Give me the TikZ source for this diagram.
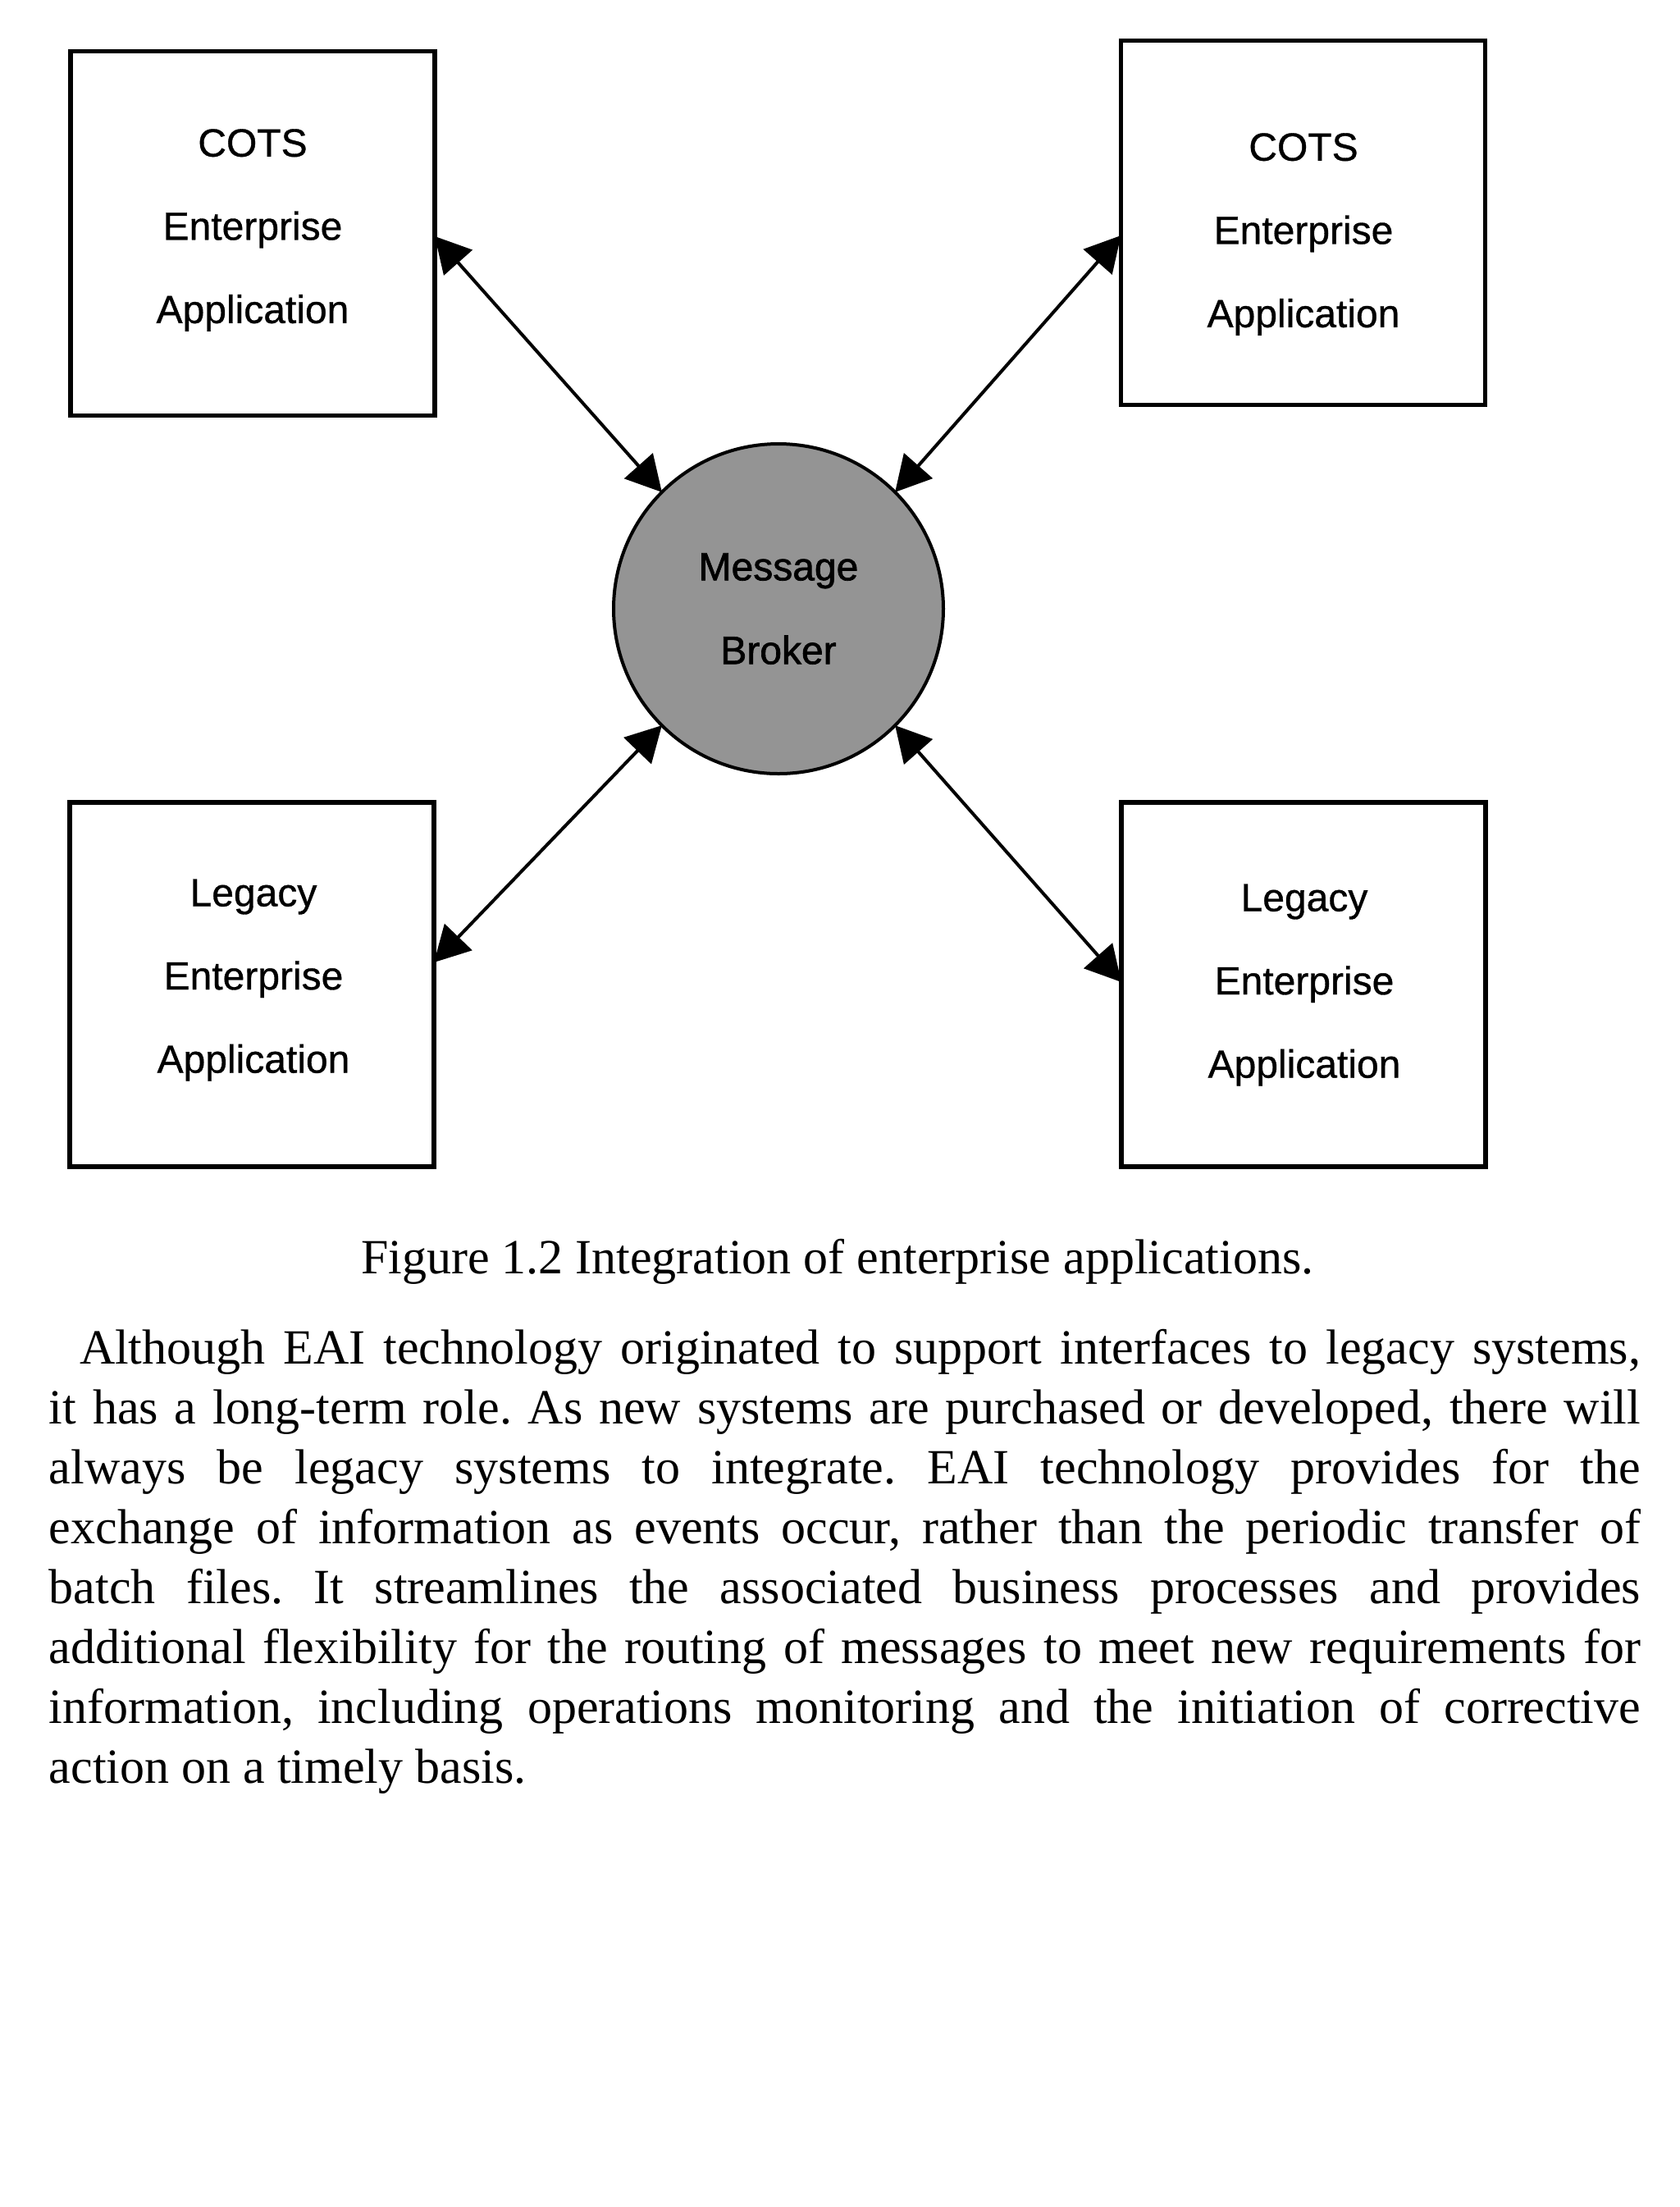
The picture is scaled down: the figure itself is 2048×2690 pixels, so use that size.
\documentclass[tikz,border=0pt]{standalone}
\usepackage{fontspec}
\setmainfont{Liberation Serif}
\newfontfamily\arialfont[FakeBold=0.7]{Liberation Sans}
\newfontfamily\arialbold[FakeBold=1.4]{Liberation Sans}
\usetikzlibrary{arrows.meta}
\definecolor{brokergray}{RGB}{148,148,148}
\frenchspacing
\begin{document}
\begin{tikzpicture}[x=0.5pt,y=-0.5pt,
  appbox/.style={draw=black, line width=2.8pt, minimum width=222pt, minimum height=222pt, inner sep=0pt, outer sep=0pt},
  applabel/.style={font=\arialfont\fontsize{24}{50.75}\selectfont, align=center, inner sep=0pt, outer sep=0pt},
  broker/.style={circle, draw=black, line width=2pt, fill=brokergray, minimum size=201pt, inner sep=0pt, outer sep=0pt, align=center, font=\arialbold\fontsize{24}{51}\selectfont},
  link/.style={line width=2pt, {Triangle[length=21.5pt,width=23pt]}-{Triangle[length=21.5pt,width=23pt]}},
  capt/.style={font=\fontsize{30}{36}\selectfont, anchor=base west, inner sep=0pt, outer sep=0pt},
  para/.style={font=\fontsize{30}{36}\selectfont, anchor=base west, inner sep=0pt, outer sep=0pt}]
\useasboundingbox[fill=white] (0,0) rectangle (2048,2690);

% boxes
\node[appbox] (tl) at (308,284.5) {};
\node[appbox] (tr) at (1588.5,271.5) {};
\node[appbox] (bl) at (307,1200) {};
\node[appbox] (br) at (1589,1200) {};

\node[applabel] (tlt) at (308,280.5) {COTS\\Enterprise\\Application};
\node[applabel] (trt) at (1589,285.5) {COTS\\Enterprise\\Application};
\node[applabel] (blt) at (309,1194.5) {Legacy\\Enterprise\\Application};
\node[applabel] (brt) at (1590,1200.5) {Legacy\\Enterprise\\Application};

% broker
\node[broker] (mb) at (949,742) {Message\\Broker};

% connectors
\draw[link] ([yshift=-1.75pt]tl.east) -- (mb.135);
\draw[link] ([yshift=-7.75pt]tr.west) -- (mb.45);
\draw[link] ([yshift=13.5pt]bl.east) -- (mb.225);
\draw[link] ([yshift=1.5pt]br.west) -- (mb.-45);

% caption
\node[capt] (cap) at (440,1552) {Figure 1.2 Integration of enterprise applications.};

% paragraph
\node[para] (p1) at (97,1662) {\makebox[951.5pt][s]{Although EAI technology originated to support interfaces to legacy systems,}};
\node[para] (p2) at (60,1735) {\makebox[970pt][s]{it has a long-term role. As new systems are purchased or developed, there will}};
\node[para] (p3) at (60,1808) {\makebox[970pt][s]{always be legacy systems to integrate. EAI technology provides for the}};
\node[para] (p4) at (60,1881) {\makebox[970pt][s]{exchange of information as events occur, rather than the periodic transfer of}};
\node[para] (p5) at (60,1954) {\makebox[970pt][s]{batch files. It streamlines the associated business processes and provides}};
\node[para] (p6) at (60,2027) {\makebox[970pt][s]{additional flexibility for the routing of messages to meet new requirements for}};
\node[para] (p7) at (60,2100) {\makebox[970pt][s]{information, including operations monitoring and the initiation of corrective}};
\node[para] (p8) at (60,2173) {action on a timely basis.};
\end{tikzpicture}
\end{document}
